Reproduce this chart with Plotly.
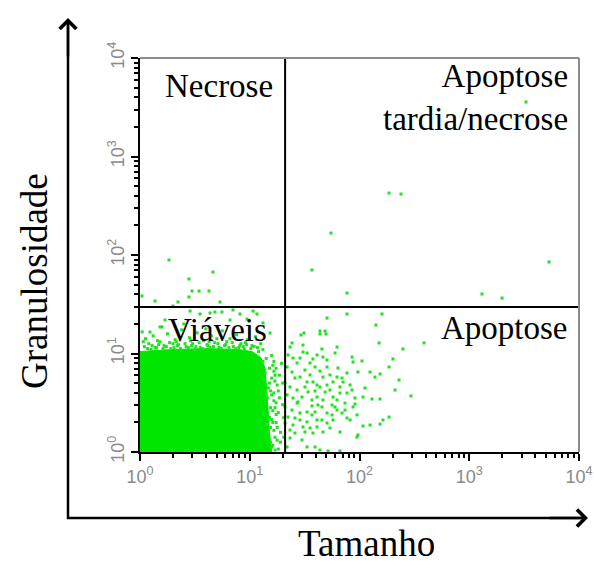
import plotly.graph_objects as go

# ---------------- data (log10 of channel values) ----------------
# gate thresholds (channel values)
gate_tamanho = 21.0
gate_granulosidade = 29.7

# outline of the saturated (solid) viable-cell cloud, log10 units
core_log_x = [0.0, 0.0, 0.3, 0.6, 0.9, 1.02, 1.10, 1.14, 1.16, 1.18, 1.20, 0.0]
core_log_y = [0.0, 1.02, 1.04, 1.05, 1.04, 1.02, 0.96, 0.85, 0.55, 0.2, 0.0, 0.0]

# scattered events on the top edge of the viable cloud
top_log_x = [0.02, 0.05, 0.08, 0.12, 0.15, 0.18, 0.22, 0.25, 0.28, 0.32, 0.35, 0.38, 0.42, 0.45,
             0.48, 0.52, 0.55, 0.58, 0.62, 0.65, 0.68, 0.72, 0.75, 0.78, 0.82, 0.85, 0.88, 0.92,
             0.95, 0.98, 1.02, 1.05, 1.08, 1.10, 0.10, 0.30, 0.50, 0.70, 0.90, 0.60, 0.20, 0.40,
             0.04, 0.07, 0.11, 0.14, 0.17, 0.21, 0.24, 0.27, 0.31, 0.34, 0.37, 0.41, 0.44, 0.47,
             0.51, 0.54, 0.57, 0.61, 0.64, 0.67, 0.71, 0.74, 0.77, 0.81, 0.84, 0.87, 0.91, 0.94,
             0.97, 1.01, 1.04, 1.07, 1.12, 0.03, 0.16, 0.33, 0.46, 0.63, 0.79, 0.96]
top_log_y = [1.22, 1.15, 1.10, 1.18, 1.06, 1.12, 1.08, 1.20, 1.05, 1.14, 1.09, 1.24, 1.07, 1.16,
             1.10, 1.21, 1.06, 1.13, 1.08, 1.18, 1.11, 1.06, 1.23, 1.09, 1.15, 1.07, 1.19, 1.10,
             1.05, 1.14, 1.08, 1.17, 1.02, 1.10, 1.04, 1.10, 1.04, 1.15, 1.06, 1.25, 1.27, 1.30,
             1.07, 1.05, 1.08, 1.06, 1.09, 1.05, 1.07, 1.11, 1.06, 1.08, 1.05, 1.10, 1.06, 1.08,
             1.07, 1.11, 1.05, 1.09, 1.06, 1.07, 1.10, 1.05, 1.08, 1.06, 1.11, 1.05, 1.08, 1.07,
             1.09, 1.05, 1.07, 1.06, 1.04, 1.12, 1.13, 1.12, 1.13, 1.12, 1.12, 1.11]

# scattered events on the right edge of the viable cloud
edge_log_x = [1.15, 1.18, 1.14, 1.20, 1.17, 1.22, 1.16, 1.24, 1.19, 1.26, 1.18, 1.21, 1.25, 1.17,
              1.23, 1.28, 1.20, 1.26, 1.30, 1.29, 1.27, 1.31, 1.24, 1.12, 1.20, 1.28, 1.22, 1.19,
              1.25, 1.31, 1.21, 1.15, 1.30, 1.23, 1.21, 1.23, 1.19, 1.22, 1.24, 1.20, 1.22, 1.25,
              1.21, 1.23, 1.18, 1.26, 1.22, 1.20, 1.24, 1.27, 1.19, 1.23]
edge_log_y = [0.95, 0.85, 0.80, 0.75, 0.65, 0.60, 0.55, 0.50, 0.45, 0.40, 0.35, 0.30, 0.25, 0.20,
              0.15, 0.10, 0.05, 0.03, 0.70, 0.90, 0.55, 0.35, 0.85, 0.92, 0.98, 0.20, 0.92, 0.10,
              0.68, 0.15, 0.42, 0.28, 0.48, 0.78, 0.88, 0.72, 0.62, 0.52, 0.38, 0.33, 0.22, 0.12,
              0.07, 0.45, 0.70, 0.62, 0.82, 0.58, 0.30, 0.78, 0.25, 0.02]

# events in the "Apoptose" quadrant
apop_log_x = [1.886, 2.205, 1.704, 2.150, 1.640, 1.686, 1.494, 1.467, 1.640, 1.695, 2.178, 2.588,
              2.396, 1.385, 1.367, 1.485, 1.485, 1.658, 1.795, 1.777, 2.305, 2.269, 1.932, 2.023,
              1.941, 1.576, 1.667, 1.804, 1.886, 1.986, 2.096, 2.187, 2.141, 2.360, 1.704, 1.640,
              1.667, 1.458, 1.522, 1.841, 2.050, 2.032, 2.324, 2.469, 2.187, 2.114, 1.914, 1.932,
              1.822, 1.731, 1.595, 1.503, 1.795, 1.941, 1.959, 1.868, 1.750, 1.777, 1.613, 1.567,
              1.595, 1.522, 1.431, 1.658, 1.841, 1.914, 2.032, 2.096, 2.187, 2.214, 2.269, 1.394,
              1.485, 1.549, 1.613, 1.704, 1.822, 1.986, 1.977, 1.412, 1.476, 1.522, 1.595, 1.713,
              1.822, 1.640, 1.367, 1.340,
              1.349, 1.394, 1.431, 1.340, 1.385, 1.412, 1.321, 1.367, 1.431, 1.340, 1.394, 1.440,
              1.321, 1.385, 1.349, 1.412, 1.321, 1.367, 1.458, 1.503, 1.549, 1.576, 1.531, 1.476,
              1.567, 1.613, 1.640, 1.686, 1.595, 1.549, 1.458, 1.522, 1.613, 1.704, 1.731, 1.759,
              1.704, 1.795, 1.850, 1.886, 1.959, 1.822, 1.759, 1.667, 1.622, 1.567, 1.704, 1.750,
              1.658, 1.458, 1.522, 1.613, 1.503, 1.576, 1.667, 1.731, 1.759, 1.795, 1.868, 1.886,
              1.977]
apop_log_y = [1.401, 1.401, 1.360, 1.289, 1.228, 1.228, 1.208, 1.188, 1.198, 1.198, 1.107, 1.107,
              1.046, 1.107, 1.066, 1.086, 1.015, 1.046, 1.066, 1.005, 0.944, 0.863, 0.964, 0.924,
              0.914, 0.944, 0.964, 0.853, 0.802, 0.812, 0.812, 0.792, 0.761, 0.731, 0.863, 0.822,
              0.761, 0.761, 0.711, 0.751, 0.650, 0.558, 0.629, 0.569, 0.538, 0.538, 0.680, 0.629,
              0.660, 0.629, 0.619, 0.660, 0.528, 0.457, 0.487, 0.497, 0.477, 0.457, 0.558, 0.467,
              0.406, 0.406, 0.497, 0.457, 0.396, 0.325, 0.264, 0.274, 0.284, 0.325, 0.355, 0.274,
              0.254, 0.244, 0.254, 0.294, 0.203, 0.173, 0.152, 0.193, 0.122, 0.051, 0.051, 0.010,
              0.010, 0.020, 0.142, 0.051,
              0.985, 0.954, 0.904, 0.863, 0.812, 0.751, 0.700, 0.660, 0.629, 0.579, 0.548, 0.508,
              0.457, 0.426, 0.355, 0.345, 0.294, 0.223, 0.396, 0.832, 0.782, 0.711, 0.609, 0.558,
              0.528, 0.680, 0.660, 0.609, 0.863, 0.904, 0.954, 1.005, 0.985, 0.934, 0.782, 0.711,
              0.680, 0.761, 0.711, 0.599, 0.548, 0.599, 0.558, 0.528, 0.477, 0.376, 0.396, 0.376,
              0.325, 0.325, 0.305, 0.325, 0.203, 0.193, 0.203, 0.244, 0.325, 0.426, 0.426, 0.345,
              0.376]

# events in the "Necrose" quadrant and just above the viable cloud
necr_log_x = [0.264, 0.665, 0.446, 0.474, 0.538, 0.629, 0.446, 0.137, 0.346, 0.729, 0.018, 0.301,
              0.456, 0.547, 0.638, 0.683, 0.747, 0.847, 0.911, 1.030, 1.066, 0.228, 0.182, 0.820,
              0.975, 1.121, 0.091, 1.185]
necr_log_y = [1.949, 1.827, 1.756, 1.634, 1.634, 1.634, 1.574, 1.533, 1.523, 1.523, 1.584, 1.482,
              1.431, 1.401, 1.411, 1.421, 1.421, 1.442, 1.401, 1.431, 1.401, 1.340, 1.269, 1.340,
              1.350, 1.310, 1.218, 1.208]

# events in the "Apoptose tardia/necrose" quadrant
late_log_x = [3.517, 2.269, 2.378, 1.740, 1.567, 3.727, 1.886, 3.116, 3.299]
late_log_y = [3.553, 2.629, 2.619, 2.223, 1.848, 1.929, 1.614, 1.604, 1.563]

# axis tick labels
major_vals = [1, 10, 100, 1000, 10000]
major_text = ["10<sup>0</sup>", "10<sup>1</sup>", "10<sup>2</sup>", "10<sup>3</sup>", "10<sup>4</sup>"]
minor_vals = [m * d for d in [1, 10, 100, 1000] for m in range(2, 10)]

x_title = "Tamanho"
y_title = "Granulosidade"
quad_labels = ["Necrose", "Apoptose<br>tardia/necrose", "Viáveis", "Apoptose"]


def pw(vals):
    return [10 ** v for v in vals]


GREEN = "#00e600"
fig = go.Figure()

fig.add_trace(go.Scatter(x=pw(core_log_x), y=pw(core_log_y), mode="lines", fill="toself",
                         fillcolor=GREEN, line=dict(color=GREEN, width=1), hoverinfo="skip"))
pts_x = pw(top_log_x + edge_log_x + apop_log_x + necr_log_x + late_log_x)
pts_y = pw(top_log_y + edge_log_y + apop_log_y + necr_log_y + late_log_y)
fig.add_trace(go.Scatter(x=pts_x, y=pts_y, mode="markers",
                         marker=dict(color="#22e022", size=3, symbol="square", line=dict(width=0)),
                         cliponaxis=True))

# gate lines
fig.add_trace(go.Scatter(x=[gate_tamanho, gate_tamanho], y=[1, 10000], mode="lines",
                         line=dict(color="black", width=2), hoverinfo="skip"))
fig.add_trace(go.Scatter(x=[1, 10000], y=[gate_granulosidade, gate_granulosidade], mode="lines",
                         line=dict(color="black", width=2), hoverinfo="skip"))

axis_common = dict(
    type="log", range=[0, 4], showgrid=False, zeroline=False,
    showline=True, linecolor="black", linewidth=2,
    tickmode="array", tickvals=major_vals, ticktext=major_text,
    ticks="outside", ticklen=7, tickwidth=1.5, tickcolor="black",
    tickfont=dict(family="Arial, Liberation Sans", size=18, color="#8a8a8a"),
    minor=dict(tickmode="array", tickvals=minor_vals, ticks="outside", ticklen=4,
               tickwidth=1.5, tickcolor="black", showgrid=False),
)
fig.update_xaxes(**axis_common)
fig.update_yaxes(**axis_common, tickangle=-90)

L, R, T, B = 140, 15, 58, 111
W, H = 594, 563
pw_w = W - L - R
pw_h = H - T - B


def px(xp):
    return (xp - L) / pw_w


def py(yp):
    return (H - B - yp) / pw_h


shapes = [
    dict(type="line", xref="paper", yref="paper", x0=0, x1=1, y0=1, y1=1,
         line=dict(color="#8c8c8c", width=2)),
    dict(type="line", xref="paper", yref="paper", x0=1, x1=1, y0=0, y1=1,
         line=dict(color="#8c8c8c", width=2)),
    dict(type="line", xref="paper", yref="paper", x0=px(68), x1=px(68), y0=py(519), y1=py(22),
         line=dict(color="black", width=2.5)),
    dict(type="line", xref="paper", yref="paper", x0=px(67), x1=px(584), y0=py(518), y1=py(518),
         line=dict(color="black", width=2.5)),
]

serif = "Liberation Serif"
annotations = [
    # arrowheads
    dict(xref="paper", yref="paper", x=px(68), y=py(18), ax=0, ay=40, text="", showarrow=True,
         arrowhead=4, arrowsize=1.3, arrowwidth=2.5, arrowcolor="black"),
    dict(xref="paper", yref="paper", x=px(588), y=py(518), ax=-40, ay=0, text="", showarrow=True,
         arrowhead=4, arrowsize=1.3, arrowwidth=2.5, arrowcolor="black"),
    # axis titles
    dict(xref="paper", yref="paper", x=px(34), y=py(281), text=y_title, showarrow=False,
         xanchor="center", yanchor="middle",
         textangle=-90, font=dict(family=serif, size=37, color="black")),
    dict(xref="paper", yref="paper", x=px(366), y=py(543), text=x_title, showarrow=False,
         xanchor="center", yanchor="middle",
         font=dict(family=serif, size=37, color="black")),
    # quadrant labels
    dict(xref="paper", yref="paper", x=px(275), y=py(86), text=quad_labels[0], showarrow=False,
         xanchor="right", yanchor="middle", font=dict(family=serif, size=33, color="black")),
    dict(xref="paper", yref="paper", x=px(570), y=py(98), text=quad_labels[1], showarrow=False,
         xanchor="right", yanchor="middle", align="right",
         font=dict(family=serif, size=33, color="black")),
    dict(xref="paper", yref="paper", x=px(166), y=py(330), text=quad_labels[2], showarrow=False,
         xanchor="left", yanchor="middle", font=dict(family=serif, size=33, color="black")),
    dict(xref="paper", yref="paper", x=px(570), y=py(328), text=quad_labels[3], showarrow=False,
         xanchor="right", yanchor="middle", font=dict(family=serif, size=33, color="black")),
]

fig.update_layout(
    width=W, height=H, margin=dict(l=L, r=R, t=T, b=B, autoexpand=False),
    paper_bgcolor="white", plot_bgcolor="white", showlegend=False,
    shapes=shapes, annotations=annotations,
)

fig.write_html("out.html")
